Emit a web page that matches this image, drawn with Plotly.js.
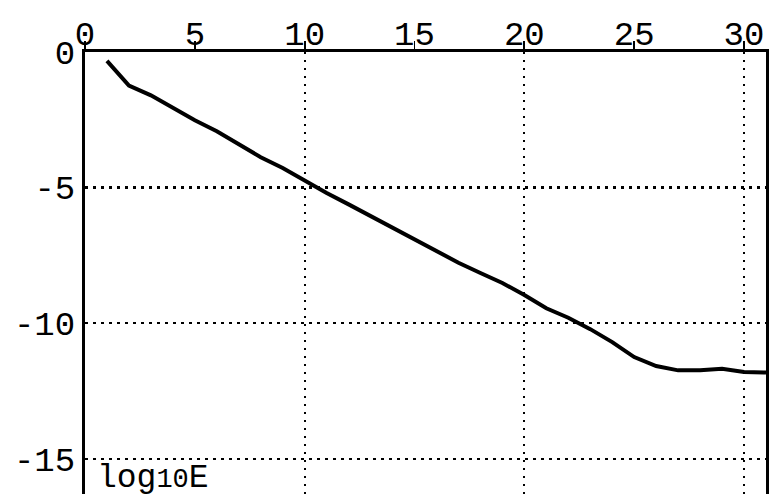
<!DOCTYPE html>
<html>
<head>
<meta charset="utf-8">
<script src="https://cdn.plot.ly/plotly-3.0.1.min.js"></script>
<style>html,body{margin:0;padding:0;background:#fff;}</style>
</head>
<body>
<div id="chart" style="width:772px;height:494px;"></div>
<script>
const iterations = [1,2,3,4,5,6,7,8,9,10,11,12,13,14,15,16,17,18,19,20,21,22,23,24,25,26,27,28,29,30,31];
const log10Error = [-0.33,-1.24,-1.6,-2.05,-2.52,-2.92,-3.4,-3.88,-4.28,-4.75,-5.2,-5.62,-6.05,-6.5,-6.9,-7.32,-7.77,-8.15,-8.52,-8.96,-9.45,-9.8,-10.22,-10.7,-11.25,-11.58,-11.74,-11.74,-11.68,-11.8,-11.82];
const xTickVals = [0,5,10,15,20,25,30];
const xGridVals = [10,20,30];
const yTickVals = [0,-5,-10,-15];
const yTickText = ['0','-5','-10','-15'];
const axisLabel = 'log<span style="font-size:27px">10</span>E';

const FONT = 'Liberation Mono, Courier New, monospace';
const data = [
  {x: iterations, y: log10Error, type: 'scatter', mode: 'lines',
   line: {color: '#000', width: 4}, xaxis: 'x', yaxis: 'y', hoverinfo: 'skip'},
  {x: [], y: [], type: 'scatter', mode: 'lines', xaxis: 'x2', yaxis: 'y', showlegend: false},
  {x: [], y: [], type: 'scatter', mode: 'lines', xaxis: 'x3', yaxis: 'y', showlegend: false}
];
const layout = {
  width: 772, height: 494,
  margin: {l: 85, r: 6, t: 40, b: 0},
  paper_bgcolor: '#fff', plot_bgcolor: '#fff',
  showlegend: false,
  font: {family: FONT, color: '#000', size: 30},
  xaxis: {
    side: 'top', anchor: 'free', position: 0.974, range: [0, 31], tickvals: xTickVals,
    ticks: '', showgrid: false, zeroline: false, showline: false,
    tickfont: {family: FONT, size: 34, color: '#000'}
  },
  xaxis2: {
    overlaying: 'x', side: 'top', anchor: 'y', range: [0, 31], tickvals: xTickVals,
    showticklabels: false, ticks: 'outside', ticklen: 8, tickwidth: 1.8, tickcolor: '#000',
    showgrid: false, zeroline: false,
    showline: true, linecolor: '#000', linewidth: 2.5
  },
  xaxis3: {
    overlaying: 'x', side: 'top', anchor: 'y', range: [0, 31], tickvals: xGridVals,
    showticklabels: false, ticks: '',
    showgrid: true, gridcolor: '#000', gridwidth: 2.2, griddash: '2.5px,5.5px',
    zeroline: false, showline: false
  },
  yaxis: {
    domain: [0, 0.9736],
    range: [-16.3, 0], tickvals: yTickVals, ticktext: yTickText,
    ticks: '', ticklabelstandoff: 0,
    showgrid: true, gridcolor: '#000', gridwidth: 2.2, griddash: '2.5px,5.5px',
    zeroline: false,
    showline: true, linecolor: '#000', linewidth: 3, mirror: true,
    tickfont: {family: FONT, size: 34, color: '#000'}
  },
  annotations: [{
    text: axisLabel, xref: 'paper', yref: 'paper', x: 0.015, y: 0,
    xanchor: 'left', yanchor: 'bottom', yshift: -5, showarrow: false,
    font: {family: FONT, size: 33, color: '#000'}
  }]
};
Plotly.newPlot('chart', data, layout, {displayModeBar: false, staticPlot: true});
</script>
</body>
</html>
